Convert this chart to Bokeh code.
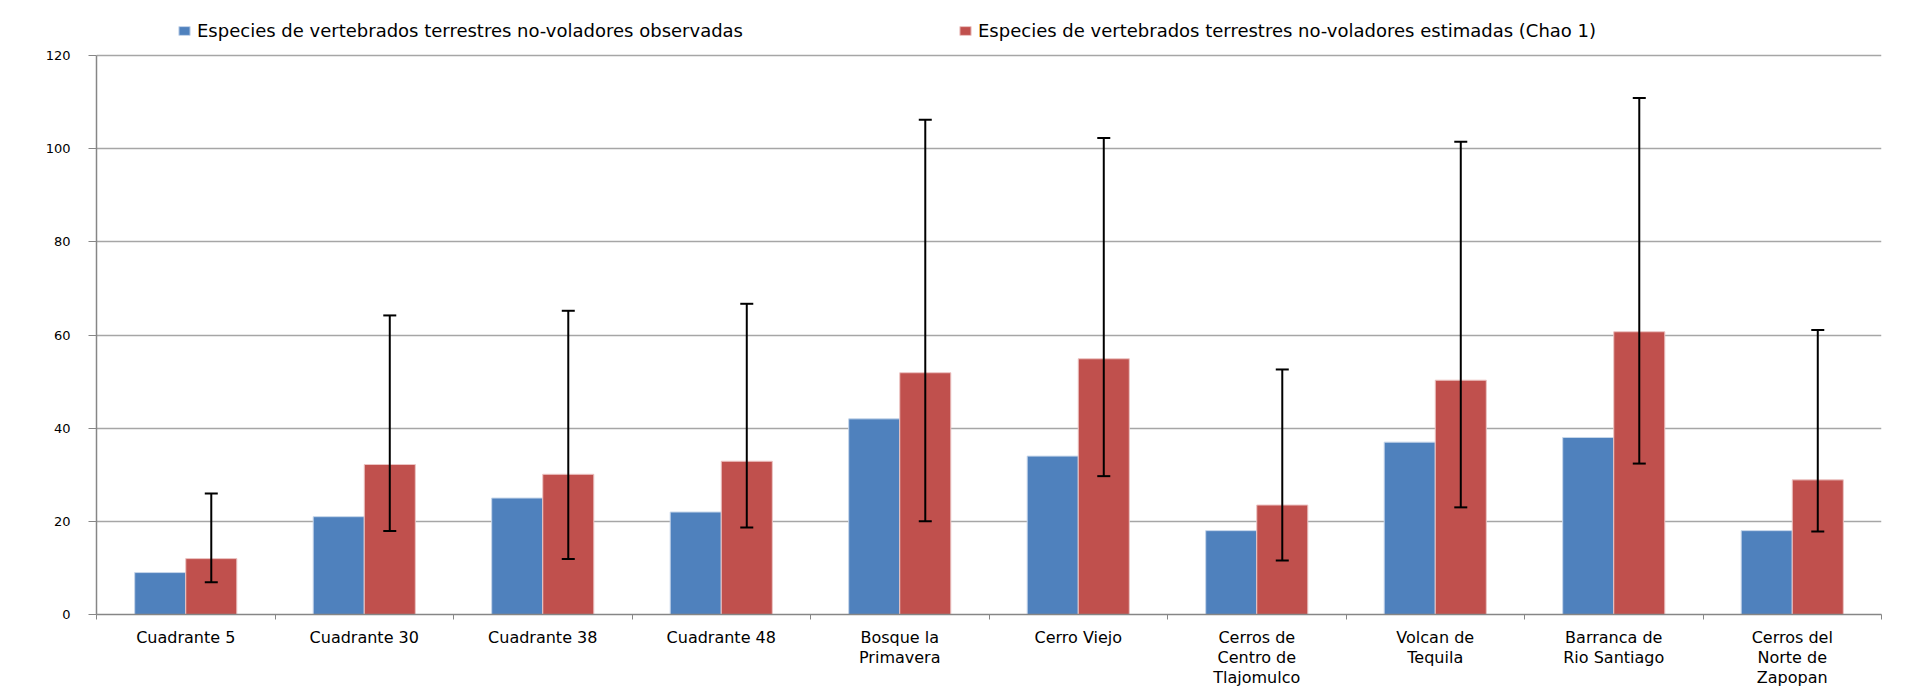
from bokeh.plotting import figure
from bokeh.models import (ColumnDataSource, Range1d, FixedTicker,
                          Legend, LegendItem)
from bokeh.transform import dodge
from bokeh.embed import file_html
from bokeh.resources import INLINE
import numpy as np

categories = ["Cuadrante 5", "Cuadrante 30", "Cuadrante 38", "Cuadrante 48",
              "Bosque la\nPrimavera", "Cerro Viejo", "Cerros de\nCentro de\nTlajomulco",
              "Volcan de\nTequila", "Barranca de\nRio Santiago", "Cerros del\nNorte de\nZapopan"]
observadas = [9, 21, 25, 22, 42, 34, 18, 37, 38, 18]
estimadas = [12, 32.2, 30.1, 32.9, 51.9, 54.9, 23.5, 50.3, 60.7, 28.9]
err_superior = [26.0, 64.2, 65.2, 66.7, 106.2, 102.3, 52.6, 101.5, 110.9, 61.1]
err_inferior = [6.9, 17.9, 11.9, 18.7, 20.0, 29.7, 11.6, 23.0, 32.4, 17.8]
series_names = ["Especies de vertebrados terrestres no-voladores observadas",
                "Especies de vertebrados terrestres no-voladores estimadas (Chao 1)"]
y_ticks = [0, 20, 40, 60, 80, 100, 120]

BLUE = "#4F81BD"
RED = "#C0504D"
GRAY = "#868686"
FONT = "DejaVu Sans"

n = len(categories)
xpos = np.arange(n) + 0.5
bar_w = 0.286

src = ColumnDataSource(dict(x=xpos, obs=observadas, est=estimadas,
                            up=err_superior, lo=err_inferior))

W, H = 1914, 694
ML, MR, MT, MB = 96, 33, 8, 80
Y_MAX = y_ticks[-1]
TOP_AXIS_PX = 55                      # screen y where the top of the value axis sits
frame_bottom = H - MB
frame_h = H - MT - MB
units_per_px = Y_MAX / (frame_bottom - TOP_AXIS_PX)
y_end = Y_MAX + (TOP_AXIS_PX - MT) * units_per_px   # headroom inside frame for legend

p = figure(width=W, height=H, output_backend="svg", toolbar_location=None,
           x_range=Range1d(0, n), y_range=Range1d(0, y_end),
           min_border_left=ML, min_border_right=MR, min_border_top=MT, min_border_bottom=MB)
p.outline_line_color = None
p.background_fill_color = "white"
p.border_fill_color = "white"

r1 = p.vbar(x=dodge("x", -bar_w / 2), top="obs", width=bar_w, source=src,
            fill_color=BLUE, line_color="#c6d6ea", line_width=1)
r2 = p.vbar(x=dodge("x", bar_w / 2), top="est", width=bar_w, source=src,
            fill_color=RED, line_color="#ecc4c3", line_width=1)

# error bars (glyphs)
p.segment(x0=dodge("x", bar_w / 2), x1=dodge("x", bar_w / 2), y0="lo", y1="up",
          source=src, line_color="black", line_width=2)
p.scatter(x=dodge("x", bar_w / 2), y="up", source=src, marker="dash", size=13,
          line_color="black", line_width=2)
p.scatter(x=dodge("x", bar_w / 2), y="lo", source=src, marker="dash", size=13,
          line_color="black", line_width=2)

# x axis: labels at category centres, tick marks at category boundaries
p.xaxis.ticker = FixedTicker(ticks=list(xpos), minor_ticks=list(np.arange(n + 1)))
p.xaxis.major_label_overrides = {float(x): c for x, c in zip(xpos, categories)}
p.xaxis.major_tick_line_color = None
p.xaxis.major_tick_out = 0
p.xaxis.major_tick_in = 0
p.xaxis.minor_tick_line_color = GRAY
p.xaxis.minor_tick_out = 5
p.xaxis.minor_tick_in = 0
p.xaxis.axis_line_color = GRAY
p.xaxis.axis_line_width = 1.5
p.xaxis.axis_label_standoff = 0
p.xaxis.major_label_text_font = FONT
p.xaxis.major_label_text_font_size = "16px"
p.xaxis.major_label_text_line_height = 1.06
p.xaxis.major_label_text_color = "black"
p.xaxis.major_label_standoff = 8
p.xgrid.grid_line_color = None

# y axis
p.yaxis.ticker = FixedTicker(ticks=y_ticks)
p.yaxis.bounds = (0, Y_MAX)
p.yaxis.minor_tick_line_color = None
p.yaxis.major_tick_out = 8
p.yaxis.major_tick_in = 0
p.yaxis.major_tick_line_color = GRAY
p.yaxis.axis_line_color = GRAY
p.yaxis.axis_line_width = 1.5
p.yaxis.major_label_text_font = FONT
p.yaxis.major_label_text_font_size = "13px"
p.yaxis.major_label_text_color = "black"
p.yaxis.major_label_standoff = 18
p.ygrid.grid_line_color = "#a6a6a6"
p.ygrid.grid_line_width = 1.5


def make_legend(item, left_px):
    lg = Legend(items=[item], orientation="horizontal",
                location=(left_px - ML, frame_bottom - 41))
    lg.label_text_font = FONT
    lg.label_text_font_size = "18px"
    lg.label_text_color = "black"
    lg.glyph_width = 14
    lg.glyph_height = 11
    lg.label_standoff = 6
    lg.padding = 4
    lg.margin = 0
    lg.border_line_color = None
    lg.background_fill_alpha = 0
    return lg


p.add_layout(make_legend(LegendItem(label=series_names[0], renderers=[r1]), 177))
p.add_layout(make_legend(LegendItem(label=series_names[1], renderers=[r2]), 958))

open("out.html", "w").write(file_html(p, INLINE))
